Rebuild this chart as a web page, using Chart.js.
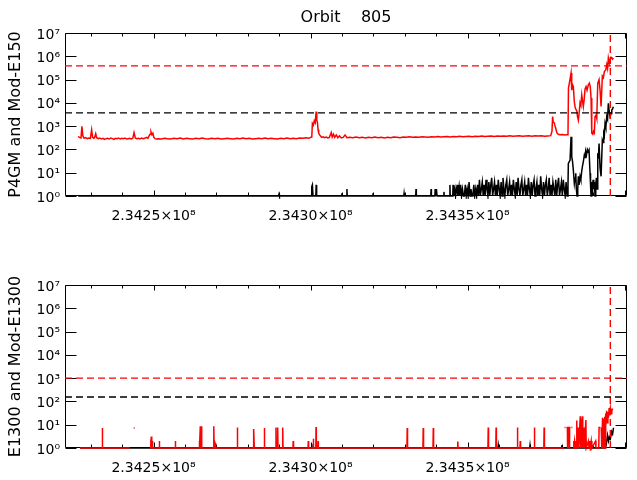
<!DOCTYPE html>
<html>
<head>
<meta charset="utf-8">
<script src="https://cdn.jsdelivr.net/npm/chart.js@4.4.1/dist/chart.umd.min.js"></script>
<style>
  html, body { margin: 0; padding: 0; background: #fff; }
  #wrap { position: relative; width: 637px; height: 480px; overflow: hidden; }
  canvas { position: absolute; left: 0; }
</style>
</head>
<body>
<div id="wrap">
  <canvas id="topChart" width="637" height="240" style="top:0"></canvas>
  <canvas id="bottomChart" width="637" height="240" style="top:252px"></canvas>
</div>
<script>
// time in seconds = T0 + kilo-seconds * 1000
const T0 = 234200000;
const xMin = 234221815;
const xMax = 234400790;
const orbitMark = 234395480;

const xTickValues = [234250000, 234300000, 234350000];
const xTickLabels = ['2.3425×10⁸', '2.3430×10⁸', '2.3435×10⁸'];
const xMinorTicks = [234230000, 234240000, 234250000, 234260000, 234270000, 234280000,
  234290000, 234300000, 234310000, 234320000, 234330000, 234340000, 234350000,
  234360000, 234370000, 234380000, 234390000, 234400000];
const yTickValues = [1, 10, 100, 1e3, 1e4, 1e5, 1e6, 1e7];
const yTickLabels = ['10⁰', '10¹', '10²', '10³', '10⁴', '10⁵', '10⁶', '10⁷'];

// top panel: P4GM (red) and Mod-E150 (black)
const p4gmT = [
  26.0, 26.4, 26.9, 27.2, 27.5, 27.9, 28.4, 28.9, 29.4, 29.9,
  30.3, 30.6, 31.0, 31.3, 31.6, 31.9, 32.4, 32.9, 33.4, 33.9,
  34.4, 34.9, 35.4, 35.9, 36.4, 36.9, 37.4, 37.9, 38.4, 38.9,
  39.4, 39.9, 40.4, 40.9, 41.4, 41.9, 42.4, 42.9, 43.4, 43.8,
  44.2, 44.7, 45.2, 45.7, 46.2, 46.7, 47.2, 47.7, 48.2, 48.6,
  48.9, 49.2, 49.5, 49.8, 50.1, 50.5, 51.0, 51.5, 52.5, 53.5,
  54.5, 55.5, 56.5, 57.5, 58.5, 59.5, 60.5, 61.5, 62.5, 63.5,
  64.5, 65.5, 66.5, 67.5, 68.5, 69.5, 70.5, 71.5, 72.5, 73.5,
  74.5, 75.5, 76.5, 77.5, 78.5, 79.5, 80.5, 81.5, 82.5, 83.5,
  84.5, 85.5, 86.5, 87.5, 88.5, 89.5, 90.5, 91.5, 92.5, 93.5,
  94.5, 95.5, 96.5, 97.5, 98.5, 99.5, 100.0, 100.4, 100.6, 100.9,
  101.2, 101.5, 101.8, 102.0, 102.2, 102.4, 102.6, 102.9, 103.2, 103.5,
  104.0, 104.5, 105.0, 105.5, 106.0, 106.6, 106.9, 107.3, 107.7, 108.2,
  108.7, 109.2, 109.8, 110.4, 111.0, 111.6, 112.5, 113.5, 114.5, 115.5,
  116.5, 117.5, 118.5, 119.5, 120.5, 121.5, 122.5, 123.5, 124.5, 125.5,
  126.5, 127.5, 128.5, 129.5, 130.5, 131.5, 132.5, 133.5, 134.5, 135.5,
  136.5, 137.5, 138.5, 139.5, 140.5, 141.5, 142.5, 143.5, 144.5, 145.5,
  146.5, 147.5, 148.5, 149.5, 150.5, 151.5, 152.5, 153.5, 154.5, 155.5,
  156.5, 157.5, 158.5, 159.5, 160.5, 161.5, 162.5, 163.5, 164.5, 165.5,
  166.5, 167.5, 168.5, 169.5, 170.5, 171.5, 172.5, 173.5, 174.5, 175.5,
  176.5, 176.9, 177.1, 177.3, 177.6, 177.9, 178.2, 178.5, 178.9, 179.5,
  180.2, 180.9, 181.6, 182.0, 182.15, 182.5, 182.97, 183.19, 183.45, 183.7,
  184.02, 184.31, 184.79, 185.04, 185.3, 185.58, 185.84, 186.09, 186.38, 186.64,
  186.89, 187.18, 187.43, 187.75, 188.07, 188.48, 188.8, 189.09, 189.34, 189.57,
  189.88, 190.14, 190.39, 190.62, 190.94, 191.16, 191.48, 191.89, 192.21, 192.53,
  192.94, 193.26, 193.58, 194.03, 194.34, 194.6, 194.85, 195.17, 195.4, 195.71,
  195.94, 196.19, 196.45
];
const p4gmV = [
  360, 330, 310, 980, 380, 300, 320, 290, 310, 300,
  700, 330, 300, 340, 470, 320, 290, 310, 280, 300,
  270, 290, 300, 280, 310, 290, 270, 300, 290, 310,
  280, 300, 290, 310, 280, 290, 300, 280, 300, 530,
  310, 290, 300, 280, 310, 290, 300, 330, 300, 380,
  450, 570, 430, 500, 330, 290, 280, 290, 280, 300,
  290, 280, 300, 290, 310, 280, 300, 290, 280, 300,
  290, 310, 290, 280, 300, 290, 300, 280, 290, 300,
  290, 280, 300, 290, 310, 290, 300, 280, 290, 300,
  290, 310, 290, 300, 290, 280, 300, 290, 310, 290,
  300, 290, 310, 300, 320, 300, 330, 340, 1300, 1100,
  1700, 1400, 4200, 1800, 1500, 700, 500, 420, 380, 330,
  350, 320, 340, 310, 330, 530, 340, 450, 330, 420,
  320, 380, 310, 330, 420, 320, 330, 320, 340, 320,
  330, 310, 330, 320, 340, 320, 330, 310, 330, 320,
  340, 330, 320, 340, 330, 350, 330, 340, 330, 350,
  340, 330, 350, 340, 360, 340, 350, 360, 340, 360,
  350, 370, 350, 360, 370, 350, 370, 360, 380, 360,
  370, 380, 360, 380, 370, 380, 370, 390, 370, 380,
  390, 370, 380, 390, 370, 390, 380, 390, 370, 380,
  390, 600, 2600, 1500, 1400, 1000, 700, 500, 450, 430,
  440, 420, 430, 430, 43000, 80000, 190000, 35000, 60000, 50000,
  11000, 6000, 4500, 2500, 1800, 4000, 10000, 8000, 22000, 12000,
  7000, 15000, 40000, 50000, 35000, 60000, 70000, 50000, 16000, 500,
  450, 600, 520, 2600, 3000, 2200, 70000, 100000, 35000, 7000,
  140000, 120000, 220000, 260000, 440000, 300000, 850000, 500000, 700000, 900000,
  850000, 750000, 850000
];
const modE150T = [
  26.0, 89.8, 89.97, 90.1, 100.2, 100.4, 100.6, 100.8, 101.7, 101.8,
  101.95, 109.9, 110.0, 110.1, 111.5, 111.6, 111.7, 119.8, 119.9, 120.0,
  129.7, 129.8, 129.9, 133.5, 133.6, 133.7, 138.3, 138.4, 138.5, 139.6,
  139.7, 139.9, 140.1, 140.3, 142.4, 142.5, 142.6, 144.3, 144.4, 144.5,
  145.3, 145.4, 145.6, 146.0, 146.2, 146.7, 146.9, 147.3, 147.5, 147.8,
  148.1, 148.4, 148.7, 149.0, 149.3, 149.6, 149.9, 150.2, 150.5, 150.8,
  151.1, 151.4, 151.7, 152.0, 152.3, 152.6, 152.9, 153.2, 153.5, 153.8,
  154.1, 154.4, 154.7, 155.0, 155.3, 155.6, 155.9, 156.2, 156.5, 156.8,
  157.1, 157.4, 157.7, 158.0, 158.3, 158.6, 158.9, 159.2, 159.5, 159.8,
  160.1, 160.4, 160.7, 161.0, 161.3, 161.6, 161.9, 162.2, 162.5, 162.8,
  163.1, 163.4, 163.7, 164.0, 164.3, 164.6, 164.9, 165.2, 165.5, 165.8,
  166.1, 166.4, 166.7, 167.0, 167.3, 167.6, 167.9, 168.2, 168.5, 168.8,
  169.1, 169.4, 169.7, 170.0, 170.3, 170.6, 170.9, 171.2, 171.5, 171.8,
  172.1, 172.4, 172.7, 173.0, 173.3, 173.6, 173.9, 174.2, 174.5, 174.8,
  175.1, 175.4, 175.7, 176.0, 176.3, 176.6, 176.9, 177.2, 177.5, 177.8,
  178.1, 178.4, 178.7, 179.0, 179.3, 179.6, 179.9, 180.2, 180.5, 180.8,
  181.1, 181.4, 181.7, 182.0, 182.11, 182.66, 182.97, 183.19, 183.45, 183.7,
  184.02, 184.24, 184.47, 184.66, 184.88, 185.11, 185.3, 185.52, 185.84, 186.09,
  186.38, 186.64, 186.89, 187.21, 187.43, 187.66, 187.91, 188.17, 188.48, 188.7,
  189.02, 189.18, 189.34, 189.57, 189.76, 189.98, 190.2, 190.39, 190.62, 190.84,
  191.04, 191.26, 191.48, 191.67, 191.89, 192.21, 192.53, 192.94, 193.16, 193.39,
  193.58, 193.8, 194.06, 194.34, 194.6, 194.85, 195.07, 195.4, 195.71, 195.94,
  196.19, 196.45
];
const modE150V = [
  1, 1, 1.2, 1, 1, 2.5, 3, 1, 1, 3,
  1, 1, 1.3, 1, 1, 2, 1, 1, 1.3, 1,
  1, 1.3, 1, 1, 2, 1, 1, 2, 1, 1,
  2, 1, 2, 1, 1, 1.5, 1, 1, 3, 1,
  1, 3, 1, 2, 1, 3, 1, 2.5, 1, 3,
  1, 2, 1, 1, 3, 1, 2, 1, 4, 1,
  2, 1, 1, 3, 1, 2, 1, 3, 1, 5,
  1, 2, 4, 1, 3, 1, 5, 2, 1, 4,
  1, 3, 6, 1, 2, 4, 1, 3, 1, 5,
  2, 1, 4, 1, 6, 2, 1, 3, 5, 1,
  2, 4, 1, 3, 1, 5, 2, 1, 4, 1,
  6, 2, 1, 3, 5, 1, 2, 4, 1, 3,
  1, 6, 2, 1, 4, 1, 3, 5, 1, 2,
  4, 1, 3, 1, 7, 2, 1, 4, 1, 3,
  5, 1, 2, 6, 1, 3, 1, 4, 2, 1,
  5, 1, 3, 6, 1, 2, 4, 1, 5, 2,
  1, 4, 1, 3, 25, 35, 350, 49, 30, 13,
  3.5, 6, 9.5, 2, 1, 2, 7, 3, 7, 5,
  12, 20, 30, 58, 45, 80, 60, 100, 80, 94,
  9.5, 3, 1, 4, 1, 5, 2, 4, 1, 3,
  6, 2, 68, 40, 180, 16, 7, 250, 200, 490,
  400, 1300, 900, 2600, 2000, 9500, 5000, 2600, 3500, 4900,
  5500, 6800
];
const p4gmLimit = 386000;
const e150Limit = 3700;

// bottom panel: E1300 (red) and Mod-E1300 (black)
const e1300T = [
  26.6, 33.6, 33.69, 33.8, 42.5, 42.6, 43.7, 44.0, 44.1, 49.0,
  49.1, 49.2, 49.3, 49.4, 49.5, 49.6, 49.7, 51.8, 51.85, 51.95,
  56.9, 56.95, 57.05, 64.5, 64.6, 64.7, 64.9, 65.0, 65.2, 65.35,
  69.1, 69.2, 69.3, 69.4, 69.6, 69.8, 76.6, 76.7, 76.8, 81.7,
  81.8, 81.9, 82.0, 82.1, 85.2, 85.3, 85.4, 88.9, 89.0, 89.1,
  89.45, 89.55, 89.65, 91.05, 91.15, 91.25, 94.4, 94.5, 94.6, 99.2,
  99.3, 99.4, 100.8, 100.9, 101.0, 101.7, 101.76, 101.85, 102.3, 102.4,
  102.5, 130.7, 130.8, 130.9, 135.8, 135.9, 136.0, 139.0, 139.1, 139.2,
  146.8, 146.9, 147.0, 156.5, 156.6, 156.7, 159.0, 159.1, 159.2, 165.8,
  165.9, 166.0, 166.7, 166.8, 166.9, 171.2, 171.3, 171.4, 174.3, 174.4,
  174.5, 180.7, 180.8, 180.9, 181.2, 181.3, 181.5, 181.8, 181.85, 181.9,
  182.2, 182.4, 182.5, 182.8, 182.9, 183.1, 183.4, 183.5, 183.7, 183.8,
  183.9, 184.1, 184.3, 184.5, 184.7, 184.8, 184.9, 185.3, 185.4, 185.9,
  186.0, 186.2, 186.3, 186.6, 186.7, 187.1, 187.2, 187.7, 187.8, 188.5,
  188.7, 188.9, 189.1, 189.4, 189.6, 190.8, 190.9, 191.8, 191.9, 192.3,
  192.4, 192.6, 192.7, 192.8, 193.0, 193.2, 193.4, 193.6, 193.7, 193.8,
  193.9, 194.1, 194.3, 194.5, 194.7, 194.9, 195.1, 195.3, 195.5, 195.7,
  195.9, 196.0, 196.2
];
const e1300V = [
  1, 1, 7.2, 1, 1, null, 7.2, 7.2, null, 1,
  2.3, 1, 3.1, 2.5, 1, 2, 1, 1, 2, 1,
  1, 2, 1, 1, 2, 1, 8.5, 1, 8.5, 1,
  1, 8.5, 1, 2, 1.6, 1, 1, 7.5, 1, 1,
  2, 1, 6.5, 1, 1, 7.2, 1, 1, 7.5, 1,
  1, 7.5, 1, 1, 7.5, 1, 1, 2, 1, 1,
  2, 1, 1, 2.5, 1, 1, 8, 1, 1, 2,
  1, 1, 7.2, 1, 1, 7.2, 1, 1, 7.2, 1,
  1, 1.9, 1, 1, 7.6, 1, 1, 7.6, 1, 1,
  7.6, 1, 1, 2, 1, 1, 7.6, 1, 1, 7.6,
  1, 1, null, 7.6, 7.6, null, 7.6, 7.6, 1, 7.6,
  7.6, 1, 7.6, 7.6, null, 7.6, 7.6, null, 1, 2,
  1, 2, 1, 2, 1, 15, 1, 7.6, 1, 23,
  1, 18, 1, 23, 1, 7.6, 1, 16, 1, 2,
  1, 2, 1, 2, 1, 2, 1, 1, 7.6, 7.6,
  null, 7.6, 7.6, 1, 20, 1, 18, 1, 22, 1,
  30, 8, 40, 12, 35, 20, 52, 25, 49, 30,
  49, 40, 50
];
const modE1300T = [
  26.6, 100.3, 100.4, 100.5, 159.7, 159.8, 159.9, 169.8, 169.9, 170.0,
  179.9, 180.0, 180.1, 187.6, 187.7, 187.8, 193.8, 193.9, 194.2, 194.6,
  194.9, 195.2, 195.5, 195.9, 196.2, 196.5
];
const modE1300V = [
  1, 1, 1.5, 1, 1, 1.3, 1, 1, 1.3, 1,
  1, 1.3, 1, 1, 2, 1, 1, 2, 1.5, 3.5,
  2, 3, 2.5, 5, 4, 7.4
];
const e1300Limit = 1000;
const modE1300Limit = 155;

const RED = '#ff0000';
const BLACK = '#000000';
const FONT = 'DejaVu Sans';

function pts(ts, vs) {
  return ts.map((t, i) => ({ x: T0 + t * 1000, y: vs[i] }));
}

function series(data, color, order) {
  return { data: data, borderColor: color, borderWidth: 1.5, pointRadius: 0,
           tension: 0, spanGaps: false, clip: 3, order: order };
}

function hLine(value, color) {
  return { data: [{ x: xMin, y: value }, { x: xMax, y: value }], borderColor: color,
           borderWidth: 1.4, borderDash: [7, 4], pointRadius: 0, clip: 3, order: 0 };
}

function vLine(at, color) {
  return { data: [{ x: at, y: 1 }, { x: at, y: 1e7 }], borderColor: color,
           borderWidth: 1.4, borderDash: [7, 4], pointRadius: 0, clip: 3, order: 0 };
}

// box round the plot with inward ticks on all four sides
const frame = {
  id: 'frame',
  beforeDatasetsDraw(chart) {
    const { ctx, chartArea: a, scales: { x, y } } = chart;
    const L = Math.round(a.left) + 0.5, R = Math.round(a.right) - 0.5;
    const T = Math.round(a.top) + 0.5, B = Math.round(a.bottom) - 0.5;
    ctx.save();
    ctx.strokeStyle = BLACK;
    ctx.lineWidth = 1;
    ctx.beginPath();
    ctx.rect(L, T, R - L, B - T);
    yTickValues.forEach(v => {
      const py = Math.round(y.getPixelForValue(v)) + 0.5;
      ctx.moveTo(L, py); ctx.lineTo(L + 11, py);
      ctx.moveTo(R, py); ctx.lineTo(R - 11, py);
    });
    xMinorTicks.forEach(v => {
      const len = v % 50000 === 0 ? 5 : 3;
      const px = Math.round(x.getPixelForValue(v)) + 0.5;
      ctx.moveTo(px, B); ctx.lineTo(px, B - len);
      ctx.moveTo(px, T); ctx.lineTo(px, T + len);
    });
    ctx.stroke();
    ctx.restore();
  }
};

function makePanel(id, yTitle, datasets, title) {
  return new Chart(document.getElementById(id), {
    type: 'line',
    data: { datasets: datasets },
    plugins: [frame],
    options: {
      responsive: false,
      animation: false,
      devicePixelRatio: 1,
      layout: { padding: { top: title ? 0 : 33, right: 10, left: 0, bottom: 0 } },
      plugins: {
        legend: { display: false },
        tooltip: { enabled: false },
        title: {
          display: !!title,
          text: title || '',
          fullSize: false,
          color: BLACK,
          font: { family: FONT, size: 16, weight: 'normal' },
          padding: { top: 8.4, bottom: 5.4 }
        }
      },
      scales: {
        x: {
          type: 'linear',
          min: xMin,
          max: xMax,
          grid: { display: false, drawTicks: false },
          border: { display: false },
          afterBuildTicks: s => { s.ticks = xTickValues.map(v => ({ value: v })); },
          afterFit: s => { s.height = 44; s.paddingLeft = 0; s.paddingRight = 0; },
          ticks: {
            autoSkip: false,
            maxRotation: 0,
            padding: 12,
            color: BLACK,
            font: { family: FONT, size: 14 },
            callback: (v, i) => xTickLabels[i]
          }
        },
        y: {
          type: 'logarithmic',
          min: 1,
          max: 1e7,
          grid: { display: false, drawTicks: false },
          border: { display: false },
          afterBuildTicks: s => { s.ticks = yTickValues.map(v => ({ value: v })); },
          afterFit: s => { s.width = 65; s.paddingTop = 0; s.paddingBottom = 0; },
          ticks: {
            padding: 5,
            labelOffset: 2,
            color: BLACK,
            font: { family: FONT, size: 14 },
            callback: (v, i) => yTickLabels[i]
          },
          title: {
            display: true,
            text: yTitle,
            color: BLACK,
            font: { family: FONT, size: 16 },
            padding: { top: 6, bottom: 0 }
          }
        }
      }
    }
  });
}

makePanel('topChart', 'P4GM and Mod-E150', [
  hLine(p4gmLimit, RED),
  hLine(e150Limit, BLACK),
  vLine(orbitMark, RED),
  series(pts(p4gmT, p4gmV), RED, 1),
  series(pts(modE150T, modE150V), BLACK, 2)
], 'Orbit    805');

makePanel('bottomChart', 'E1300 and Mod-E1300', [
  hLine(e1300Limit, RED),
  hLine(modE1300Limit, BLACK),
  vLine(orbitMark, RED),
  series(pts(e1300T, e1300V), RED, 1),
  series(pts(modE1300T, modE1300V), BLACK, 2)
], null);
</script>
</body>
</html>
